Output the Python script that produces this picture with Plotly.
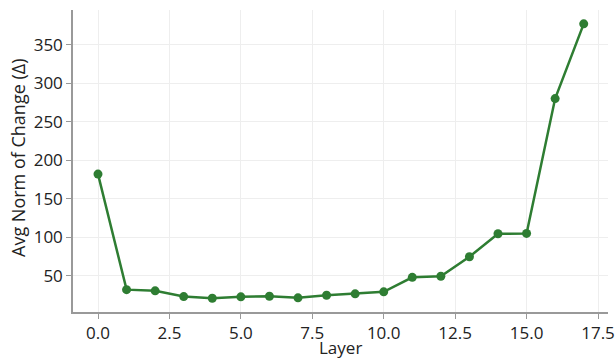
import plotly.graph_objects as go

layers = list(range(18))
avg_norm = [182, 32, 30.5, 23, 20.8, 22.7, 23.4, 21.4, 24.7, 26.6, 29.2, 48, 49.4, 74.7, 104.5, 105, 280, 377]
x_tickvals = [0, 2.5, 5, 7.5, 10, 12.5, 15, 17.5]
x_ticktext = ["0.0", "2.5", "5.0", "7.5", "10.0", "12.5", "15.0", "17.5"]
y_tickvals = [50, 100, 150, 200, 250, 300, 350]
x_title = "Layer"
y_title = "Avg Norm of Change (Δ)"

color = "#2e7d32"
fig = go.Figure(go.Scatter(
    x=layers, y=avg_norm, mode="lines+markers",
    line=dict(color=color, width=2.5),
    marker=dict(color=color, size=9),
))
axis_common = dict(
    showline=True, linecolor="#999999", linewidth=1.5,
    ticks="outside", tickcolor="#999999", ticklen=5,
    showgrid=True, gridcolor="#eeeeee", gridwidth=1,
    zeroline=False, tickfont=dict(size=17, color="#222222"),
    automargin=False, ticklabeloverflow="allow",
)
fig.update_layout(
    width=615, height=360,
    margin=dict(l=73, r=7, t=10, b=48),
    paper_bgcolor="white", plot_bgcolor="white",
    font=dict(family="Open Sans, sans-serif", color="#222222"),
    showlegend=False,
    xaxis=dict(range=[-0.875, 17.85], tickvals=x_tickvals, ticktext=x_ticktext, **axis_common),
    yaxis=dict(range=[3, 395], tickvals=y_tickvals, **axis_common),
    annotations=[
        dict(text=x_title, xref="paper", yref="paper", x=0.5, y=0, yshift=-35,
             xanchor="center", yanchor="middle", showarrow=False, font=dict(size=17)),
        dict(text=y_title, xref="paper", yref="paper", x=0, y=0.51, xshift=-55, textangle=-90,
             xanchor="center", yanchor="middle", showarrow=False, font=dict(size=18)),
    ],
)
fig.write_html("out.html", config={"displayModeBar": False},
               post_script="document.body.style.margin='0';document.body.style.overflow='hidden';")
